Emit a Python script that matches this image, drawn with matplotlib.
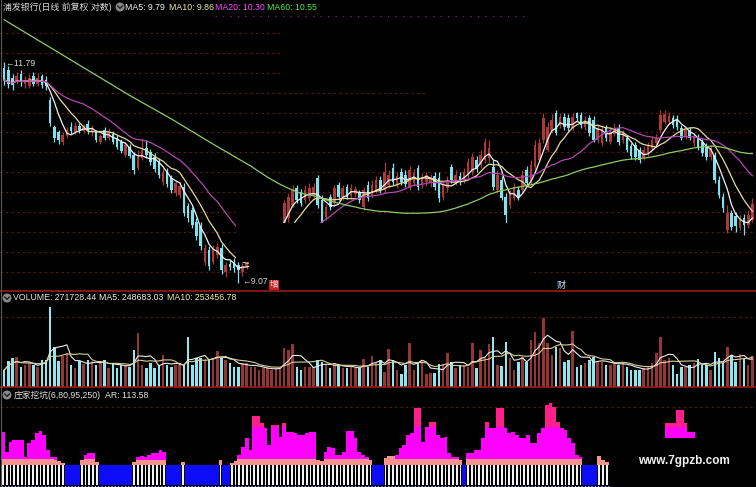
import numpy as np
import pandas as pd
import matplotlib
matplotlib.use("Agg")
import matplotlib.pyplot as plt
from matplotlib.patches import Rectangle, Ellipse
from matplotlib.lines import Line2D
from matplotlib import font_manager

# ---------------- data (daily candles) ----------------
opens = [
    11.72, 11.69, 11.59, 11.54, 11.64, 11.52, 11.49, 11.62, 11.52, 11.62,
    11.57, 11.32, 10.99, 10.93, 10.81, 10.88, 10.99, 10.93, 11.00, 10.94,
    11.03, 10.93, 10.93, 10.81, 10.95, 10.86, 10.91, 10.86, 10.81, 10.65,
    10.74, 10.65, 10.49, 10.61, 10.73, 10.68, 10.62, 10.56, 10.31, 10.44,
    10.36, 10.18, 10.15, 10.25, 10.02, 9.97, 9.82, 9.77, 9.33, 9.48,
    9.33, 9.42, 9.50, 9.21, 9.31, 9.33, 9.29, 9.21, 9.27, 9.30,
    9.34, 9.38, 9.46, 9.53, 9.62, 9.73, 9.80, 9.81, 9.87, 10.03,
    10.24, 10.19, 10.09, 10.12, 10.15, 10.36, 10.09, 9.88, 10.13, 10.06,
    10.28, 10.13, 10.25, 10.14, 10.17, 10.18, 10.01, 10.28, 10.15, 10.22,
    10.34, 10.22, 10.28, 10.49, 10.28, 10.44, 10.40, 10.24, 10.30, 10.49,
    10.28, 10.31, 10.30, 10.39, 10.36, 10.13, 10.24, 10.50, 10.31, 10.39,
    10.34, 10.40, 10.44, 10.58, 10.52, 10.58, 10.61, 10.50, 10.22, 10.34,
    10.13, 10.03, 10.12, 10.22, 10.22, 10.46, 10.31, 10.50, 10.58, 10.83,
    10.71, 10.95, 11.16, 11.02, 11.12, 11.10, 10.98, 11.16, 11.14, 10.99,
    11.10, 11.08, 10.83, 10.79, 10.98, 10.81, 10.91, 10.98, 10.83, 10.86,
    10.76, 10.77, 10.71, 10.61, 10.67, 10.73, 10.79, 10.95, 11.05, 11.05,
    11.10, 11.08, 10.98, 10.87, 10.95, 10.79, 10.87, 10.81, 10.76, 10.62,
    10.65, 10.34, 10.13, 9.72, 9.93, 9.90, 9.75, 9.87, 9.79, 9.85,
]
highs = [
    11.79, 11.74, 11.64, 11.67, 11.69, 11.62, 11.64, 11.67, 11.65, 11.64,
    11.62, 11.36, 11.02, 10.95, 10.93, 10.99, 11.05, 11.05, 11.04, 11.03,
    11.08, 11.02, 10.95, 10.91, 10.99, 10.98, 10.94, 10.89, 10.84, 10.81,
    10.78, 10.68, 10.71, 10.86, 10.83, 10.72, 10.67, 10.61, 10.49, 10.49,
    10.40, 10.34, 10.31, 10.30, 10.06, 10.01, 9.87, 9.82, 9.55, 9.53,
    9.54, 9.56, 9.55, 9.33, 9.36, 9.38, 9.33, 9.32, 9.36, 9.37,
    9.42, 9.49, 9.56, 9.66, 9.76, 9.84, 9.94, 10.09, 10.18, 10.28,
    10.28, 10.23, 10.28, 10.30, 10.30, 10.40, 10.15, 10.04, 10.17, 10.28,
    10.31, 10.28, 10.29, 10.29, 10.27, 10.22, 10.25, 10.33, 10.34, 10.39,
    10.39, 10.56, 10.46, 10.55, 10.44, 10.49, 10.46, 10.51, 10.47, 10.52,
    10.43, 10.44, 10.41, 10.44, 10.44, 10.31, 10.39, 10.54, 10.46, 10.44,
    10.49, 10.61, 10.67, 10.63, 10.71, 10.86, 10.83, 10.58, 10.46, 10.39,
    10.18, 10.22, 10.30, 10.27, 10.46, 10.51, 10.58, 10.83, 10.86, 11.16,
    11.05, 11.15, 11.20, 11.16, 11.16, 11.15, 11.16, 11.18, 11.18, 11.13,
    11.14, 11.13, 11.03, 11.00, 11.02, 10.98, 11.04, 11.03, 10.95, 10.89,
    10.79, 10.81, 10.75, 10.76, 10.81, 10.88, 10.91, 11.20, 11.20, 11.18,
    11.14, 11.14, 11.02, 10.99, 10.99, 10.92, 10.91, 10.84, 10.79, 10.77,
    10.68, 10.39, 10.18, 10.03, 9.97, 9.95, 9.91, 9.92, 9.97, 10.12,
]
lows = [
    11.51, 11.47, 11.45, 11.52, 11.49, 11.47, 11.47, 11.49, 11.49, 11.47,
    11.45, 11.00, 10.81, 10.78, 10.77, 10.86, 10.91, 10.91, 10.92, 10.92,
    10.91, 10.88, 10.81, 10.78, 10.83, 10.83, 10.78, 10.72, 10.67, 10.62,
    10.61, 10.41, 10.46, 10.59, 10.61, 10.52, 10.44, 10.36, 10.28, 10.25,
    10.18, 10.14, 10.12, 9.90, 9.82, 9.75, 9.60, 9.48, 9.29, 9.23,
    9.31, 9.38, 9.18, 9.15, 9.23, 9.21, 9.07, 9.16, 9.24, 9.27,
    9.30, 9.35, 9.42, 9.49, 9.58, 9.69, 9.76, 9.77, 9.82, 10.01,
    10.06, 10.02, 10.06, 10.08, 10.10, 9.99, 9.80, 9.85, 9.97, 10.02,
    10.09, 10.09, 10.10, 10.10, 10.13, 10.06, 9.97, 10.08, 10.12, 10.18,
    10.18, 10.18, 10.24, 10.28, 10.24, 10.28, 10.25, 10.22, 10.27, 10.22,
    10.24, 10.27, 10.25, 10.22, 10.07, 10.09, 10.19, 10.30, 10.28, 10.28,
    10.30, 10.36, 10.40, 10.44, 10.49, 10.55, 10.56, 10.22, 10.18, 10.09,
    9.81, 10.00, 10.09, 10.09, 10.18, 10.27, 10.28, 10.46, 10.56, 10.79,
    10.68, 10.92, 10.89, 10.98, 10.95, 10.94, 10.95, 11.07, 10.98, 10.95,
    10.88, 10.81, 10.79, 10.76, 10.82, 10.78, 10.88, 10.77, 10.79, 10.68,
    10.60, 10.58, 10.55, 10.58, 10.63, 10.71, 10.77, 10.92, 11.03, 11.03,
    10.98, 10.95, 10.83, 10.84, 10.83, 10.76, 10.71, 10.63, 10.58, 10.58,
    10.30, 10.12, 9.95, 9.69, 9.72, 9.70, 9.72, 9.66, 9.75, 9.82,
]
closes = [
    11.57, 11.52, 11.51, 11.62, 11.54, 11.57, 11.59, 11.52, 11.59, 11.51,
    11.49, 11.04, 10.86, 10.83, 10.89, 10.95, 10.94, 11.00, 10.95, 10.99,
    10.95, 10.98, 10.83, 10.88, 10.86, 10.93, 10.81, 10.75, 10.70, 10.77,
    10.63, 10.46, 10.62, 10.71, 10.65, 10.56, 10.47, 10.40, 10.44, 10.29,
    10.22, 10.30, 10.27, 9.93, 9.87, 9.79, 9.65, 9.53, 9.50, 9.28,
    9.48, 9.52, 9.23, 9.29, 9.27, 9.26, 9.23, 9.28, 9.31, 9.33,
    9.38, 9.45, 9.52, 9.62, 9.72, 9.80, 9.90, 10.06, 10.13, 10.22,
    10.09, 10.06, 10.22, 10.24, 10.25, 10.03, 9.82, 10.01, 10.01, 10.24,
    10.13, 10.24, 10.13, 10.24, 10.23, 10.09, 10.22, 10.12, 10.28, 10.34,
    10.22, 10.44, 10.40, 10.31, 10.39, 10.31, 10.29, 10.46, 10.43, 10.25,
    10.38, 10.40, 10.36, 10.25, 10.12, 10.28, 10.34, 10.34, 10.40, 10.31,
    10.44, 10.56, 10.62, 10.49, 10.65, 10.81, 10.73, 10.25, 10.40, 10.12,
    9.91, 10.17, 10.25, 10.13, 10.40, 10.30, 10.52, 10.77, 10.79, 11.10,
    10.99, 11.08, 10.92, 11.12, 10.99, 10.98, 11.11, 11.10, 11.02, 11.08,
    10.92, 10.83, 10.98, 10.95, 10.86, 10.93, 10.98, 10.81, 10.92, 10.71,
    10.63, 10.62, 10.58, 10.71, 10.76, 10.83, 10.86, 11.14, 11.15, 11.13,
    11.02, 10.99, 10.86, 10.95, 10.86, 10.87, 10.73, 10.67, 10.62, 10.72,
    10.34, 10.15, 9.99, 9.93, 9.76, 9.77, 9.85, 9.79, 9.91, 10.04,
]
# MA60 at the left edge comes from history outside the window
ma60_days = [0, 10, 20, 30, 40, 50, 58]
ma60_read = [12.31, 12.00, 11.69, 11.38, 11.09, 10.78, 10.54]

# volume, 万手
volume = [
    14.6, 22.4, 24.9, 25.8, 17.2, 18.9, 20.6, 18.9, 17.2, 23.2,
    23.2, 68.8, 34.4, 22.4, 26.7, 29.2, 18.9, 16.3, 22.4, 19.8,
    23.2, 22.4, 18.9, 20.6, 23.2, 16.3, 20.6, 16.3, 18.9, 18.9,
    17.2, 31.8, 46.4, 18.9, 16.3, 20.6, 16.3, 18.9, 27.5, 18.9,
    17.2, 18.9, 18.9, 18.9, 43.0, 18.9, 24.9, 24.9, 24.1, 24.1,
    24.1, 31.0, 24.9, 23.2, 20.6, 17.2, 17.2, 20.6, 20.6, 17.2,
    17.2, 14.6, 16.3, 16.3, 14.6, 16.3, 16.3, 33.5, 31.8, 37.0,
    17.2, 14.6, 17.2, 17.2, 17.2, 23.2, 21.5, 18.9, 16.3, 20.6,
    18.9, 16.3, 16.3, 17.2, 16.3, 16.3, 24.1, 17.2, 26.7, 21.5,
    23.2, 12.9, 32.7, 23.2, 14.6, 11.2, 18.9, 37.8, 14.6, 21.5,
    22.4, 11.2, 12.0, 12.0, 19.8, 19.8, 29.2, 21.5, 16.3, 18.9,
    18.9, 17.2, 37.8, 16.3, 31.8, 24.9, 37.0, 43.0, 18.9, 18.1,
    38.7, 24.9, 14.6, 21.5, 25.8, 21.5, 40.4, 47.3, 37.8, 59.3,
    37.8, 27.5, 34.4, 33.5, 21.5, 23.2, 48.2, 17.2, 18.9, 20.6,
    23.2, 25.8, 21.5, 21.5, 18.9, 18.9, 21.5, 18.9, 21.5, 17.2,
    14.6, 14.6, 14.6, 16.3, 17.2, 20.6, 29.2, 43.0, 23.2, 24.9,
    18.9, 11.2, 17.2, 17.2, 18.9, 20.6, 24.1, 18.9, 18.9, 14.6,
    30.1, 24.9, 20.6, 34.4, 27.5, 21.5, 28.4, 24.1, 18.9, 26.7,
]

# 庄家挖坑 indicator (own day axis); 0 = no signal that day
ind_base = [
    28, 28, 28, 28, 28, 28, 28, 28, 28, 28,
    28, 28, 28, 28, 27, 26, 24, 0, 0, 0,
    0, 27, 28, 28, 28, 25, 0, 0, 0, 0,
    0, 0, 0, 0, 0, 25, 27, 27, 27, 27,
    27, 27, 27, 27, 0, 0, 0, 0, 25, 0,
    0, 0, 0, 0, 0, 0, 0, 0, 27, 0,
    0, 24, 26, 28, 28, 28, 28, 28, 28, 28,
    28, 28, 28, 28, 28, 28, 28, 28, 28, 28,
    28, 28, 28, 28, 27, 26, 28, 28, 28, 28,
    28, 28, 28, 28, 28, 28, 28, 28, 27, 0,
    0, 0, 29, 31, 31, 28, 28, 28, 28, 28,
    28, 28, 28, 28, 28, 28, 28, 28, 28, 28,
    28, 28, 27, 0, 28, 28, 28, 28, 28, 28,
    28, 28, 28, 28, 28, 28, 28, 28, 28, 28,
    28, 28, 28, 28, 28, 28, 28, 28, 28, 28,
    28, 28, 28, 28, 28, 0, 0, 0, 0, 31,
    27, 25,
]
ind_ar = [
    55, 35, 45, 47, 47, 47, 30, 44, 47, 54,
    56, 52, 37, 30, 30, 0, 0, 0, 0, 0,
    0, 0, 32, 34, 34, 0, 0, 0, 0, 0,
    0, 0, 0, 0, 0, 0, 30, 31, 30, 32,
    34, 34, 37, 35, 0, 0, 0, 0, 0, 0,
    0, 0, 0, 0, 0, 0, 0, 0, 0, 0,
    0, 0, 0, 32, 40, 49, 37, 71, 71, 64,
    59, 42, 62, 62, 50, 64, 55, 55, 54, 52,
    52, 54, 55, 55, 0, 0, 35, 40, 39, 32,
    32, 35, 56, 56, 49, 35, 32, 30, 0, 0,
    0, 0, 0, 0, 0, 32, 39, 42, 52, 54,
    79, 79, 45, 60, 65, 65, 52, 49, 50, 34,
    30, 30, 0, 0, 34, 34, 37, 37, 49, 65,
    59, 59, 79, 79, 59, 54, 55, 52, 49, 49,
    52, 44, 44, 54, 59, 82, 84, 80, 65, 59,
    57, 49, 44, 32, 30, 0, 0, 0, 0, 0,
    0, 0,
]
float_days = [177, 178, 179, 180, 181, 182, 183, 184]
float_top = [64, 64, 64, 77, 77, 64, 55, 55]
float_low = 49

title_main = "浦发银行(日线 前复权 对数)"
title_vol = "VOLUME: 271728.44"
title_ind = "庄家挖坑(6,80,95,250)"

# ---------------- layout ----------------
W, H = 756, 487
K_BOT, V_BOT = 291, 387
UP, DN = "#ac3a38", "#7fe2ec"
VUP, VDN = "#943636", "#8ee6ee"
GRID = "#661616"

names = {f.name for f in font_manager.fontManager.ttflist}
LAT = "Liberation Sans Narrow" if "Liberation Sans Narrow" in names else "Liberation Sans"
fs = 7.0 if LAT.endswith("Narrow") else 6.3
CJK = "Noto Sans CJK SC"
FAM = [LAT, CJK, "DejaVu Sans"]

fig = plt.figure(figsize=(W / 100, H / 100), dpi=100, facecolor="black")


def box(x0, y0, x1, y1):
    return [x0 / W, 1 - y1 / H, (x1 - x0) / W, (y1 - y0) / H]


ax_k = fig.add_axes(box(0, 0, W, K_BOT))
ax_v = fig.add_axes(box(0, K_BOT, W, V_BOT))
ax_i = fig.add_axes(box(0, V_BOT, W, H))
for ax in (ax_k, ax_v, ax_i):
    ax.set_axis_off()


def hrow(ax, top, bot, py, x0=0, x1=W, **kw):
    yf = 1 - (py - top) / (bot - top)
    ax.plot([x0 / W, x1 / W], [yf, yf], transform=ax.transAxes, **kw)


def label(px, py, s, color, size=None, fam=None, **kw):
    fig.text(px / W, 1 - py / H, s, color=color, fontsize=size or fs,
             family=fam or FAM, va="center", ha="left", **kw)


def icon(px, py):
    fig.add_artist(Ellipse((px / W, 1 - py / H), 9 / W, 9 / H, transform=fig.transFigure,
                           facecolor="#8a8a8a", edgecolor="none"))
    fig.add_artist(Line2D([(px - 2.3) / W, px / W, (px + 2.3) / W],
                          [1 - (py - 1) / H, 1 - (py + 1.4) / H, 1 - (py - 1) / H],
                          transform=fig.transFigure, color="#202020", lw=1.0))


# ---------------- main candles ----------------
o, h, l, c = (np.array(a) for a in (opens, highs, lows, closes))
days = np.arange(len(c))
up = c >= o
cols = np.where(up, UP, DN)

ax_k.set_xlim(-1, W / 4.18 - 1)
ax_k.set_ylim(8.974, 12.553)

for py in [33, 53, 73, 93, 113, 132, 152, 172, 192, 212, 232, 252, 272]:
    hrow(ax_k, 0, K_BOT, py, color=GRID, lw=0.8, ls=(0, (2, 3)), zorder=1)
hrow(ax_k, 0, K_BOT, 16, 215, 530, color="#7a2a7a", lw=0.9, ls=(0, (1, 5)), zorder=1)

ax_k.vlines(days, l, h, colors=cols, lw=0.9, zorder=2)
ax_k.bar(days, np.maximum(np.abs(c - o), 0.012), bottom=np.minimum(o, c), width=0.62,
         color=cols, linewidth=0, zorder=2.1)

cs = pd.Series(c)
ma60 = cs.rolling(60).mean()
ax_k.plot(days, cs.rolling(5, min_periods=1).mean(), color="#f2f2f2", lw=0.9, zorder=3)
ax_k.plot(days, cs.rolling(10, min_periods=1).mean(), color="#e6dc9c", lw=0.9, zorder=3)
ax_k.plot(days, cs.rolling(20, min_periods=1).mean(), color="#b246b2", lw=0.9, zorder=3)
ax_k.plot(list(ma60_days) + list(days[59:]), list(ma60_read) + list(ma60[59:]),
          color="#8ccc66", lw=0.9, zorder=3)

# blank patches of the original screenshot
for x0, y0, x1, y1 in [(236, 205, 282.5, 262), (249, 262, 282.5, K_BOT),
                       (282.5, 223, 530, K_BOT), (282, 20, W, 85), (427, 85, W, 104)]:
    ax_k.add_patch(Rectangle((x0 / W, 1 - y1 / K_BOT), (x1 - x0) / W, (y1 - y0) / K_BOT,
                             transform=ax_k.transAxes, facecolor="black",
                             edgecolor="none", zorder=4))

hi, lo = int(np.argmax(h)), int(np.argmin(l))
ax_k.text(hi + 0.2, h[hi] - 0.02, "←%.2f" % h[hi], color="#d4d4d4", fontsize=fs,
          family=FAM, va="center", ha="left", zorder=5)
ax_k.text(lo + 1.0, l[lo] + 0.02, "←%.2f" % l[lo], color="#d4d4d4", fontsize=fs,
          family=FAM, va="center", ha="left", zorder=5)
label(270, 285, "增", "#f4e4e4", 6.3, [CJK],
      bbox=dict(facecolor="#c42424", edgecolor="none", pad=0.5))
label(557, 285, "财", "#d8e6ff", 6.5, [CJK])

# ---------------- volume ----------------
vol = np.array(volume)
ax_v.set_xlim(-1, W / 4.18 - 1)
ax_v.set_ylim(0, (V_BOT - K_BOT) * 0.86)
hrow(ax_v, K_BOT, V_BOT, 317, color=GRID, lw=0.8, ls=(0, (2, 3)), zorder=1)
ax_v.bar(days, vol, width=0.6, color=np.where(up, VUP, VDN), linewidth=0, zorder=2)
vs = pd.Series(vol)
ax_v.plot(days, vs.rolling(5, min_periods=1).mean(), color="#ececec", lw=0.8, zorder=3)
ax_v.plot(days, vs.rolling(10, min_periods=1).mean(), color="#d8d096", lw=0.8, zorder=3)

# ---------------- indicator ----------------
base, ar = np.array(ind_base), np.array(ind_ar)
jj = np.arange(len(base))
on = base > 0
ax_i.set_xlim(-0.8, (W - 3) / 3.75)
ax_i.set_ylim(0, 100)
hrow(ax_i, V_BOT, H, 407, color=GRID, lw=0.8, ls=(0, (2, 3)), zorder=1)
ax_i.bar(jj[~on], 20, bottom=2, width=1.02, color="#0c0cf6", linewidth=0, zorder=2)
ax_i.bar(jj[on], 20, bottom=2, width=0.42, color="#f4f4f4", linewidth=0, zorder=2)
ax_i.plot([-0.5, len(base) - 0.5], [1, 1], color="#b8b8ff", lw=0.8, ls=(0, (1, 2)), zorder=2)
m = ar > 0
ax_i.bar(jj[m], ar[m] - 22, bottom=22, width=1.02, color="#ff00ff", linewidth=0, zorder=2)
p = ar > 60
ax_i.bar(jj[p], ar[p] - 60, bottom=60, width=1.02, color="#ff1f8a", linewidth=0, zorder=2.1)
ax_i.bar(jj[on], base[on] - 22, bottom=22, width=1.02, color="#f4928e", linewidth=0, zorder=2.2)
ft = np.array(float_top)
ax_i.bar(float_days, ft - float_low, bottom=float_low, width=1.02, color="#ff00ff", linewidth=0, zorder=2)
ax_i.bar(float_days, np.clip(ft - 60, 0, None), bottom=60, width=1.02, color="#ff1f8a",
         linewidth=0, zorder=2.1)

# ---------------- frame lines & titles ----------------
for py in (K_BOT, V_BOT):
    fig.add_artist(Line2D([0, 1], [1 - py / H, 1 - py / H], transform=fig.transFigure,
                          color="#a81c1c", lw=1.1))
fig.add_artist(Line2D([0.5 / W, 0.5 / W], [0, 1], transform=fig.transFigure, color="#5a5a5a", lw=0.8))

label(3, 7, title_main, "#dadada", 6.4)
icon(120, 7)
label(125, 7, "MA5: 9.79", "#f2f2f2")
label(169, 7, "MA10: 9.86", "#ecec9e")
label(215, 7, "MA20: 10.30", "#ff4cff")
label(267, 7, "MA60: 10.55", "#50f050")

icon(7, 298)
label(13, 298, title_vol, "#e2e2e2")
label(99, 298, "MA5: 248683.03", "#f2f2f2")
label(167, 298, "MA10: 253456.78", "#ecec9e")

icon(7, 395)
label(14, 395, title_ind, "#e2e2e2")
label(105, 395, "AR: 113.58", "#e2e2e2")

label(638, 461, "www.7gpzb.com", "#f2f2f2", 8.5, ["Liberation Sans", "DejaVu Sans"], weight="bold")

fig.savefig("out.png", dpi=100, facecolor="black")
